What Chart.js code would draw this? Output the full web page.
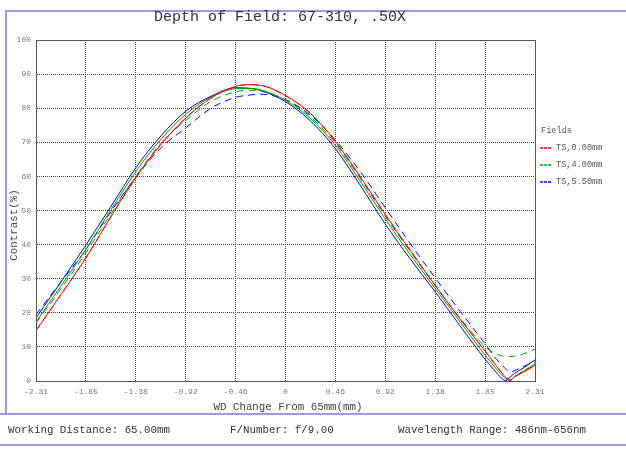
<!DOCTYPE html>
<html>
<head>
<meta charset="utf-8">
<script src="https://cdn.jsdelivr.net/npm/chart.js@4.4.1/dist/chart.umd.min.js"></script>
<style>
  html, body { margin: 0; padding: 0; background: #fff; }
  #wrap { position: relative; width: 626px; height: 449px; overflow: hidden; font-family: "Liberation Mono", "DejaVu Sans Mono", monospace; color: #333; }
  #chart { position: absolute; left: 0; top: 0; }
  .txt { position: absolute; white-space: nowrap; }
  .hline { position: absolute; height: 0; border-top: 2px solid #9a9ae6; }
  .vline { position: absolute; width: 0; border-left: 2px solid #9a9ae6; }
  .leg { position: absolute; font-size: 8.6px; line-height: 10px; color: #555; white-space: nowrap; }
  .leg i { display: inline-block; width: 11px; height: 2px; vertical-align: middle; margin-right: 5px; }
</style>
</head>
<body>
<div id="wrap">
  <canvas id="chart" width="626" height="449"></canvas>

  <div class="hline" style="left:5px; top:10px; width:621px;"></div>
  <div class="vline" style="left:5px; top:10px; height:404px;"></div>
  <div class="hline" style="left:0; top:413px; width:626px;"></div>
  <div class="hline" style="left:0; top:444px; width:626px;"></div>

  <div class="txt" id="title" style="left:0; width:560px; top:9px; line-height:18px; font-size:15px; text-align:center;"></div>
  <div class="txt" id="xlabel" style="left:0; width:576px; top:400px; line-height:14px; font-size:10.8px; text-align:center; color:#444;"></div>
  <div class="txt" id="ylabel" style="left:-36px; width:100px; top:218px; line-height:14px; font-size:10.8px; text-align:center; color:#444; transform:rotate(-90deg);"></div>

  <div class="leg" style="left:541px; top:126px;">Fields</div>
  <div id="legend"></div>

  <div class="txt" id="foot1" style="left:8px; top:423px; line-height:14px; font-size:10.8px;"></div>
  <div class="txt" id="foot2" style="left:230px; top:423px; line-height:14px; font-size:10.8px;"></div>
  <div class="txt" id="foot3" style="left:398px; top:423px; line-height:14px; font-size:10.8px;"></div>
</div>

<script>
// texts
const titleText = 'Depth of Field: 67-310, .50X';
const xTitle = 'WD Change From 65mm(mm)';
const yTitle = 'Contrast(%)';
const footTexts = ['Working Distance: 65.00mm', 'F/Number: f/9.00', 'Wavelength Range: 486nm-656nm'];

// fields (legend)
const fieldNames = ['TS,0.00mm', 'TS,4.00mm', 'TS,5.50mm'];
const fieldColors = ['#ff0000', '#00a000', '#0000ff'];

// axis ticks
const xTickLabels = ['-2.31', '-1.85', '-1.38', '-0.92', '-0.46', '0', '0.46', '0.92', '1.38', '1.85', '2.31'];
const yTicks = [0, 10, 20, 30, 40, 50, 60, 70, 80, 90, 100];

// focus shift (mm)
const xValues = [-2.31, -2.08, -1.85, -1.62, -1.38, -1.15, -0.92, -0.69, -0.46, -0.35, -0.23, 0, 0.23, 0.46, 0.69, 0.92, 1.15, 1.38, 1.62, 1.85, 1.93, 2.0, 2.04, 2.08, 2.12, 2.2, 2.31];

// contrast (%)
const field0T = [14.8, 25.3, 36, 48, 59.9, 69.5, 77.2, 83, 86.4, 86.9, 86.7, 83.7, 78.5, 70.3, 60, 49, 38.5, 28.3, 18, 8.7, 5.3, 2.5, 1.0, 0.2, 1.2, 2.6, 4.6];
const field0S = [14.8, 25.3, 36, 48, 59.9, 69.5, 77.2, 83, 86.4, 86.9, 86.7, 83.7, 78.5, 70.3, 60, 49, 38.5, 28.3, 18, 8.7, 5.3, 2.5, 1.0, 0.2, 1.2, 2.6, 4.6];
const field1T = [17.3, 27.8, 38.5, 50, 61.7, 71, 78.3, 83.3, 85.7, 85.8, 85.4, 82.3, 77, 69.2, 58.7, 47.7, 37.3, 27.4, 17.2, 7.5, 4.4, 1.8, 0.6, 0.3, 1.3, 2.9, 5.0];
const field1S = [17.0, 27, 37.5, 48.8, 60.3, 69.8, 76.5, 82, 84.8, 85.3, 85.0, 82.5, 77.5, 69.8, 59.5, 48.5, 38.2, 28.2, 18.3, 10.0, 8.3, 7.4, 7.2, 7.2, 7.3, 7.9, 9.4];
const field2T = [18.5, 29, 39.8, 51, 62.8, 72, 79.2, 83.5, 86.0, 85.9, 85.2, 81.9, 76.3, 68.2, 57.5, 46.2, 36, 26.4, 16, 6.3, 3.3, 0.8, 0.1, 1.2, 2.2, 3.8, 6.2];
const field2S = [19.5, 29, 38.5, 49.5, 60, 68.5, 74.3, 80, 83.2, 83.8, 84.1, 82.5, 78, 70.7, 61.5, 51, 40.5, 30.5, 20.3, 10.8, 7.3, 4.8, 3.5, 2.6, 3.0, 4.2, 5.6];

document.getElementById('title').textContent = titleText;
document.getElementById('xlabel').textContent = xTitle;
document.getElementById('ylabel').textContent = yTitle;
footTexts.forEach((t, i) => document.getElementById('foot' + (i + 1)).textContent = t);

// legend: short dashed swatch in the field colour
const legend = document.getElementById('legend');
fieldNames.forEach((name, i) => {
  const d = document.createElement('div');
  d.className = 'leg';
  d.style.left = '540px';
  d.style.top = (143 + i * 17) + 'px';
  const sw = document.createElement('i');
  const c = fieldColors[i];
  sw.style.background = `repeating-linear-gradient(90deg, ${c} 0 3px, transparent 3px 4px)`;
  sw.style.opacity = '0.75';
  d.appendChild(sw);
  d.appendChild(document.createTextNode(name));
  legend.appendChild(d);
});

function series(values, color, dashed) {
  return {
    data: xValues.map((x, i) => ({ x: x, y: values[i] })),
    borderColor: color,
    borderWidth: 1,
    borderDash: dashed ? [7, 5] : [],
    pointRadius: 0,
    fill: false,
    cubicInterpolationMode: 'monotone'
  };
}

// solid frame round the plot area
const frame = {
  id: 'frame',
  afterDraw(chart) {
    const a = chart.chartArea;
    const ctx = chart.ctx;
    ctx.save();
    ctx.strokeStyle = '#555';
    ctx.lineWidth = 1;
    ctx.strokeRect(Math.round(a.left) + 0.5, Math.round(a.top) + 0.5, Math.round(a.right - a.left), Math.round(a.bottom - a.top));
    ctx.restore();
  }
};

const tickFont = { family: '"Liberation Mono", monospace', size: 8 };

new Chart(document.getElementById('chart'), {
  type: 'line',
  data: {
    datasets: [
      series(field0T, fieldColors[0], false),
      series(field0S, fieldColors[0], true),
      series(field1T, fieldColors[1], false),
      series(field1S, fieldColors[1], true),
      series(field2T, fieldColors[2], false),
      series(field2S, fieldColors[2], true)
    ]
  },
  options: {
    responsive: false,
    animation: false,
    devicePixelRatio: 1,
    layout: { padding: { left: 0, top: 40, right: 91, bottom: 48 } },
    plugins: {
      legend: { display: false },
      title: { display: false },
      tooltip: { enabled: false }
    },
    scales: {
      x: {
        type: 'linear',
        min: -2.31,
        max: 2.31,
        afterFit: (s) => { s.height = 20; },
        afterBuildTicks: (s) => {
          s.ticks = xTickLabels.map((t, i) => ({ value: -2.31 + i * 4.62 / 10 }));
        },
        ticks: {
          autoSkip: false,
          maxRotation: 0,
          padding: 6,
          color: '#777',
          font: tickFont,
          callback: (v, i) => xTickLabels[i]
        },
        grid: { color: '#444', lineWidth: 1, drawTicks: false },
        border: { display: true, color: '#555', dash: [1, 1] }
      },
      y: {
        min: 0,
        max: 100,
        afterFit: (s) => { s.width = 36; },
        afterBuildTicks: (s) => {
          s.ticks = yTicks.map(v => ({ value: v }));
        },
        ticks: {
          padding: 5,
          color: '#777',
          font: tickFont
        },
        grid: { color: '#444', lineWidth: 1, drawTicks: false },
        border: { display: true, color: '#555', dash: [1, 1] }
      }
    }
  },
  plugins: [frame]
});
</script>
</body>
</html>
